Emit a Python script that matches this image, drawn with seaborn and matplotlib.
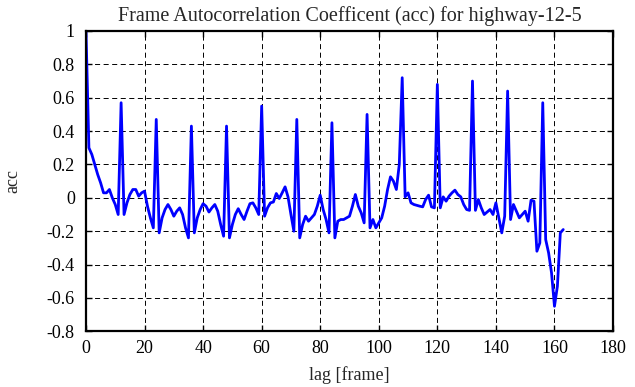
import numpy as np
import pandas as pd
import matplotlib
matplotlib.use("Agg")
import matplotlib.pyplot as plt
import seaborn as sns

lags = list(range(0, 164))
acc = [
    1.0, 0.30, 0.26, 0.20, 0.14, 0.09, 0.03, 0.03, 0.05, 0.00,
    -0.04, -0.10, 0.57, -0.10, -0.03, 0.02, 0.05, 0.05, 0.01, 0.03,
    0.04, -0.05, -0.12, -0.18, 0.47, -0.21, -0.12, -0.07, -0.04, -0.07,
    -0.11, -0.08, -0.06, -0.10, -0.18, -0.24, 0.43, -0.21, -0.12, -0.07,
    -0.035, -0.05, -0.085, -0.06, -0.04, -0.08, -0.16, -0.23, 0.43, -0.24,
    -0.16, -0.10, -0.065, -0.10, -0.13, -0.08, -0.035, -0.03, -0.06, -0.10,
    0.55, -0.11, -0.06, -0.03, -0.025, 0.026, -0.004, 0.03, 0.066, 0.006,
    -0.10, -0.20, 0.47, -0.24, -0.16, -0.11, -0.14, -0.12, -0.10, -0.05,
    0.016, -0.07, -0.13, -0.21, 0.45, -0.24, -0.14, -0.13, -0.13, -0.12,
    -0.11, -0.05, 0.02, -0.05, -0.09, -0.15, 0.50, -0.18, -0.13, -0.18,
    -0.15, -0.12, -0.05, 0.05, 0.126, 0.10, 0.05, 0.20, 0.72, 0.006,
    0.03, -0.03, -0.04, -0.045, -0.05, -0.054, -0.01, 0.016, -0.054, -0.06,
    0.68, -0.06, 0.006, -0.02, 0.01, 0.03, 0.046, 0.02, 0.006, -0.04,
    -0.07, -0.075, 0.70, -0.075, -0.01, -0.06, -0.10, -0.085, -0.07, -0.10,
    -0.03, -0.12, -0.21, -0.11, 0.64, -0.13, -0.04, -0.08, -0.12, -0.10,
    -0.08, -0.14, -0.014, -0.02, -0.32, -0.27, 0.57, -0.25, -0.33, -0.45,
    -0.65, -0.53, -0.21, -0.19,
]

title = "Frame Autocorrelation Coefficent (acc) for highway-12-5"
xlabel = "lag [frame]"
ylabel = "acc"
xticks = [0, 20, 40, 60, 80, 100, 120, 140, 160, 180]
yticks = [-0.8, -0.6, -0.4, -0.2, 0, 0.2, 0.4, 0.6, 0.8, 1]
ytick_labels = ["-0.8", "-0.6", "-0.4", "-0.2", "0", "0.2", "0.4", "0.6", "0.8", "1"]

sns.set_style("white")
plt.rcParams["font.family"] = ["Liberation Serif", "DejaVu Serif"]

df = pd.DataFrame({"lag": lags, "acc": acc})

fig = plt.figure(figsize=(6.35, 3.87), dpi=100)
ax = fig.add_axes([0.1354, 0.1439, 0.9654 - 0.1354, 0.9199 - 0.1439])

sns.lineplot(data=df, x="lag", y="acc", ax=ax, color="#0000ff", linewidth=2.0)

ax.set_xlim(0, 180)
ax.set_ylim(-0.8, 1)
ax.set_xticks(xticks)
ax.set_xticklabels([str(t) for t in xticks])
ax.set_yticks(yticks)
ax.set_yticklabels(ytick_labels)

ax.grid(True, color="black", linestyle=(0, (5.2, 3.6)), linewidth=0.7)
for s in ax.spines.values():
    s.set_color("black")
    s.set_linewidth(1.6)
ax.tick_params(direction="in", length=4, width=1, top=True, right=True,
               labelsize=13, colors="black", pad=6,
               bottom=True, left=True)
ax.tick_params(axis="y", pad=8)

ax.set_title(title, fontsize=14.5, pad=7)
ax.set_xlabel(xlabel, fontsize=13, labelpad=7)
ax.set_ylabel(ylabel, fontsize=13, labelpad=18)

fig.savefig("out.png", dpi=100)
